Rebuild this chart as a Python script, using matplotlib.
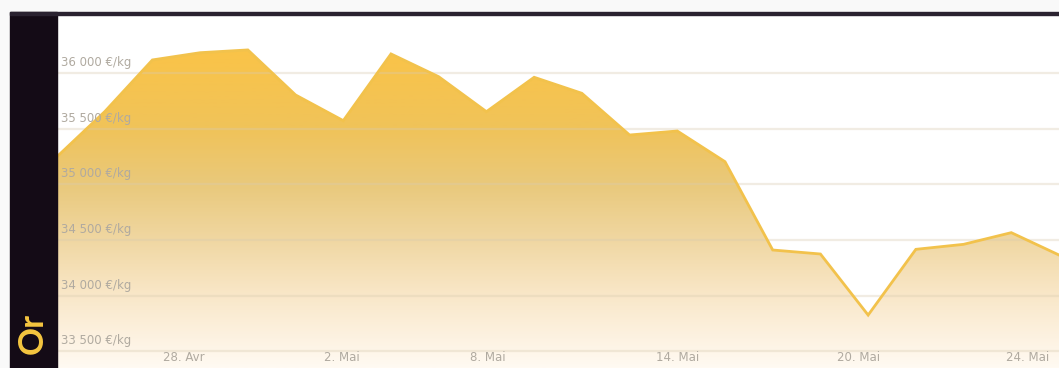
import matplotlib.pyplot as plt
import numpy as np
from matplotlib.colors import LinearSegmentedColormap
from matplotlib.patches import Rectangle
from matplotlib import transforms

# gold price, one point per session
prices = [35250, 35655, 36120, 36185, 36210, 35805, 35574, 36174, 35969, 35655,
          35964, 35820, 35445, 35481, 35205, 34411, 34375, 33826, 34417, 34462,
          34567, 34366]
date_labels = ['28. Avr', '2. Mai', '8. Mai', '14. Mai', '20. Mai', '24. Mai']
date_ticks = [2.65, 5.98, 9.02, 13.0, 16.79, 20.35]
price_levels = [33500, 34000, 34500, 35000, 35500, 36000]

W, H = 1059, 368
YMIN, YMAX = 33350, 36524
fig = plt.figure(figsize=(W / 100, H / 100), dpi=100)
fig.patch.set_facecolor('#f9f9f9')

# dark frame: top rule and left band
fig.patches.append(Rectangle((10 / W, 0), 47 / W, 1 - 12 / H,
                             transform=fig.transFigure, color='#140b16', zorder=0))
fig.patches.append(Rectangle((10 / W, 1 - 15 / H), 1 - 10 / W, 3 / H,
                             transform=fig.transFigure, color='#2a2230', zorder=0))

ax = fig.add_axes([57 / W, 0, 1 - 57 / W, (H - 15) / H])
ax.set_facecolor('white')
x = np.arange(len(prices))
ax.set_xlim(0, len(prices) - 1)
ax.set_ylim(YMIN, YMAX)

# vertical gradient under the curve
cmap = LinearSegmentedColormap.from_list('gold', [
    (0.0, '#fffaf2'), (0.05, '#fef5e8'), (0.207, '#f9e7c8'), (0.363, '#f0d7a2'),
    (0.518, '#e9c97c'), (0.674, '#f0c35a'), (0.90, '#fac348'), (1.0, '#fbc446')])
grad = np.linspace(0, 1, 256).reshape(-1, 1)
img = ax.imshow(grad, cmap=cmap, aspect='auto', origin='lower',
                extent=[0, len(prices) - 1, YMIN, YMAX], zorder=1)
poly = ax.fill_between(x, prices, YMIN, color='none', zorder=1)
img.set_clip_path(poly.get_paths()[0], transform=ax.transData)
ax.plot(x, prices, color='#f2c24c', lw=2, zorder=3, solid_joinstyle='miter')

for lvl in price_levels:
    ax.axhline(lvl, color='#d8cbb0', alpha=0.35, lw=1.6, zorder=2)

# price labels sit just above their grid line
trans = transforms.blended_transform_factory(ax.transAxes, ax.transData)
for lvl in price_levels:
    ax.annotate('{:,} €/kg'.format(lvl).replace(',', ' '), xy=(0, lvl),
                xycoords=trans, xytext=(3, 3), textcoords='offset points',
                fontsize=8.5, color='#b0aaa0', ha='left', va='bottom', zorder=4)

for pos, lab in zip(date_ticks, date_labels):
    ax.text(pos, YMIN + 35, lab, fontsize=8.5, color='#b0aaa0',
            ha='center', va='bottom', zorder=4)

ax.set_xticks([])
ax.set_yticks([])
for s in ax.spines.values():
    s.set_visible(False)

fig.text(33 / W, 1 - 334 / H, 'Or', rotation=90, color='#f5c640',
         fontsize=25, fontweight='bold', family='Lato', ha='center', va='center')

fig.savefig('out.png', dpi=100)
